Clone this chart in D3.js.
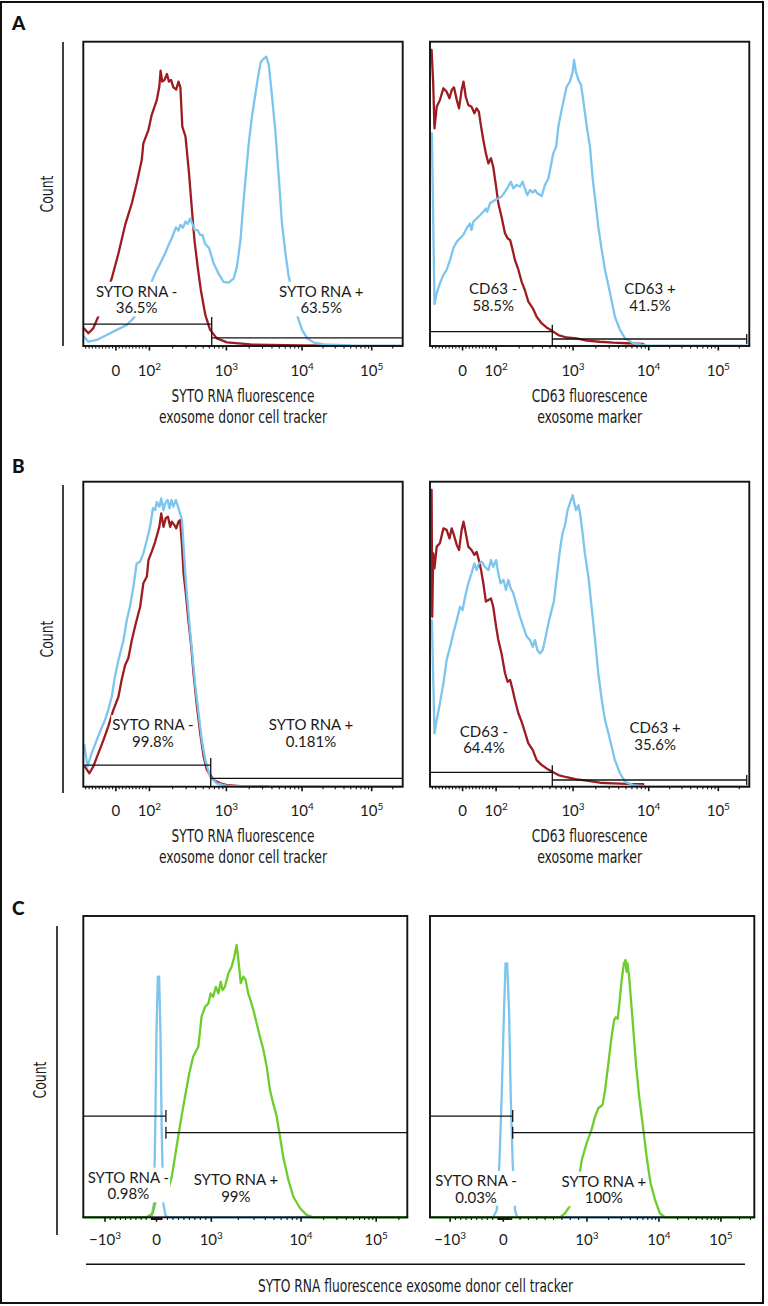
<!DOCTYPE html>
<html><head><meta charset="utf-8">
<script src="https://cdn.jsdelivr.net/npm/d3@7"></script>
<style>
body{margin:0;background:#fff;}
svg{display:block;}
</style></head><body>
<svg id="fig" width="768" height="1306"></svg>
<script>
// ---------- DATA (x = display channel, % of axis range; y = count, % of plot height) ----------
const aLeftRed = [[0.2,5.8],[1.6,4.2],[3.1,5.8],[4.9,10.2],[6.9,16.2],[8.9,22.2],[11.0,30.4],[13.1,39.8],[15.2,46.9],[16.7,53.4],[18.3,61.1],[18.8,66.6],[20.4,71.0],[21.4,75.9],[23.0,80.8],[23.8,85.2],[24.2,90.5],[24.7,86.9],[25.4,87.4],[26.2,89.4],[26.8,86.9],[27.5,87.4],[28.2,85.0],[29.1,84.3],[29.8,86.9],[30.4,85.0],[31.0,72.1],[32.0,68.8],[33.1,56.7],[34.1,43.6],[34.8,34.8],[35.8,26.1],[36.8,18.4],[38.2,10.2],[39.7,5.3],[41.8,2.5],[45.0,1.2],[52.3,0.5],[68.0,0.2],[78.5,0.1]];
const aLeftBlue = [[0.2,3.1],[1.6,1.4],[4.2,2.0],[7.3,3.6],[10.5,5.3],[13.6,6.9],[15.7,9.1],[18.8,14.6],[22.5,23.9],[24.1,27.2],[25.6,30.4],[26.7,33.2],[27.7,35.4],[29.0,39.0],[29.8,37.9],[30.4,39.8],[31.2,38.9],[32.0,40.9],[32.7,40.1],[33.5,41.9],[34.1,40.3],[34.9,38.1],[35.8,38.1],[36.6,36.5],[37.3,36.5],[38.1,33.7],[39.4,32.1],[40.8,27.2],[42.4,23.7],[43.9,21.1],[45.5,20.8],[47.1,22.2],[48.1,26.1],[49.2,34.8],[50.2,48.0],[51.8,66.6],[52.8,75.4],[53.9,83.0],[54.9,89.6],[55.6,93.4],[56.5,94.4],[57.3,95.1],[58.1,92.3],[59.1,81.9],[60.1,71.0],[61.2,55.6],[62.2,40.3],[63.3,30.4],[64.3,22.8],[65.6,17.3],[66.9,10.2],[68.5,5.3],[70.1,2.5],[72.2,1.1],[75.3,0.5],[83.7,0.2],[100,0.1]];
const aRightRed = [[0.5,97.3],[1.0,86.3],[1.4,71.5],[2.1,78.6],[3.1,80.8],[4.2,84.7],[5.2,83.6],[6.1,81.4],[6.8,84.1],[7.5,85.0],[8.4,80.8],[9.1,78.1],[9.9,84.1],[10.5,86.9],[11.2,81.9],[12.0,79.2],[13.0,78.6],[13.9,76.5],[14.6,78.1],[15.3,77.0],[16.0,72.1],[16.7,67.7],[17.5,63.3],[18.3,60.0],[19.1,61.7],[19.8,58.9],[20.7,52.4],[21.4,46.9],[22.4,42.5],[23.5,37.0],[24.3,35.4],[25.1,34.8],[25.9,31.5],[26.6,28.3],[27.7,25.0],[28.7,21.1],[29.7,18.4],[30.8,14.6],[32.2,12.4],[33.4,9.6],[35.0,7.4],[36.5,6.1],[38.3,4.9],[40.2,3.6],[42.8,2.8],[45.9,2.5],[49.1,1.8],[53.2,1.4],[57.4,1.1],[61.6,0.9],[66.8,0.7]];
const aRightBlue = [[0.6,69.9],[1.4,13.8],[2.1,17.3],[3.1,20.6],[4.2,23.3],[5.2,25.0],[6.3,28.3],[7.3,32.1],[8.4,34.3],[9.4,35.4],[10.4,36.5],[11.5,38.7],[12.5,40.3],[13.0,38.1],[13.6,40.9],[14.6,41.9],[15.7,43.0],[16.7,44.1],[17.5,45.2],[17.9,44.1],[18.8,46.9],[20.4,48.0],[21.4,48.5],[22.4,49.1],[23.5,50.7],[24.5,52.4],[25.3,54.0],[26.1,51.8],[27.1,52.9],[28.2,52.4],[29.0,54.0],[29.7,51.8],[30.5,49.6],[31.3,51.3],[32.2,50.4],[32.9,51.3],[33.6,50.2],[35.0,49.3],[36.0,52.9],[37.1,55.1],[37.9,59.5],[38.6,63.3],[39.5,65.5],[40.2,72.1],[41.2,77.5],[42.1,81.9],[42.8,85.2],[43.8,86.9],[44.7,90.1],[45.1,94.0],[45.7,90.1],[46.5,87.4],[47.3,85.8],[48.0,80.8],[49.1,72.1],[50.1,65.5],[50.9,55.6],[52.0,45.8],[52.7,39.2],[53.8,31.5],[54.8,25.0],[56.4,17.3],[57.9,9.6],[59.5,5.3],[61.1,2.5],[63.7,0.9],[67.8,0.2],[100,0.1]];
const bLeftRed = [[0.5,6.6],[1.9,4.4],[3.1,6.6],[4.7,10.9],[6.3,15.3],[7.8,19.7],[9.4,25.1],[11.0,29.5],[12.0,35.0],[13.1,39.9],[14.1,42.1],[15.2,48.1],[16.2,52.5],[17.8,59.0],[18.8,66.7],[19.9,68.9],[20.4,74.3],[21.4,77.0],[22.5,80.3],[23.8,85.2],[24.4,89.6],[25.1,85.2],[25.8,88.0],[26.5,88.5],[27.2,85.2],[27.7,86.9],[28.5,85.8],[29.1,84.7],[29.8,86.9],[30.3,87.4],[30.9,79.2],[31.4,69.9],[32.1,63.4],[32.9,54.6],[33.8,45.9],[34.5,37.2],[35.6,26.2],[36.6,17.5],[37.7,9.8],[38.7,5.5],[40.8,2.2],[42.9,1.1],[45.0,0.5],[49.2,0.2],[57.5,0.1]];
const bLeftBlue = [[0.3,13.7],[1.3,6.6],[2.6,10.9],[4.2,15.3],[5.2,18.0],[6.8,21.9],[7.8,25.1],[8.9,29.5],[9.9,36.1],[11.0,41.5],[12.6,48.1],[13.6,54.6],[14.6,59.0],[15.7,65.6],[16.7,73.2],[17.8,73.8],[18.8,76.5],[19.9,80.9],[20.9,85.2],[21.8,91.3],[22.5,90.7],[23.0,93.4],[23.8,91.8],[24.4,94.5],[25.1,90.7],[25.6,92.9],[26.4,94.0],[27.0,91.3],[27.6,94.0],[28.2,91.8],[29.0,94.0],[29.8,91.3],[30.9,87.4],[31.4,78.7],[32.0,68.9],[32.6,61.2],[33.5,50.3],[34.3,41.5],[35.1,32.8],[36.1,24.0],[37.1,15.3],[38.2,8.7],[39.7,3.3],[41.8,1.1],[45.0,0.3],[57.5,0.1],[100,0]];
const bRightRed = [[0.5,97.3],[0.7,55.7],[1.0,76.5],[1.4,71.6],[2.1,78.7],[3.1,79.8],[4.2,84.7],[5.2,84.2],[6.1,81.4],[6.8,84.7],[7.5,82.5],[8.4,79.2],[9.1,77.6],[9.9,84.2],[10.5,86.9],[11.2,83.1],[12.0,78.7],[13.0,77.6],[13.9,76.0],[14.6,77.0],[15.3,74.3],[16.0,71.0],[16.7,66.7],[17.5,60.7],[18.3,61.2],[19.1,61.7],[19.8,59.0],[20.7,52.5],[21.4,48.1],[22.4,43.7],[23.5,37.2],[24.3,34.4],[25.1,35.0],[25.9,31.7],[26.6,28.4],[27.7,24.0],[28.7,21.3],[29.7,18.0],[30.8,14.2],[32.2,12.0],[33.4,8.7],[35.0,7.1],[36.5,6.0],[38.3,4.9],[40.2,3.8],[42.8,3.1],[45.9,2.4],[49.1,2.0],[53.2,1.3],[57.4,1.1],[61.6,0.9],[66.8,0.8]];
const bRightBlue = [[0.6,54.6],[1.4,17.5],[2.1,21.9],[3.1,27.3],[4.2,33.9],[5.2,41.5],[6.3,45.9],[7.3,50.3],[8.4,54.6],[9.4,59.0],[10.2,57.9],[11.0,62.3],[12.0,66.7],[13.0,69.9],[13.9,73.2],[14.6,71.0],[15.3,73.2],[16.2,73.8],[17.2,72.1],[18.3,71.0],[19.1,74.3],[19.8,72.1],[20.7,74.3],[21.4,69.9],[22.1,66.7],[23.0,67.8],[23.8,64.5],[24.5,67.8],[25.3,65.0],[26.1,63.4],[27.1,59.6],[28.2,55.7],[29.2,52.5],[30.3,49.2],[31.3,48.1],[32.2,45.9],[32.9,48.1],[33.6,44.8],[34.4,43.7],[35.3,44.8],[36.0,48.1],[37.1,53.6],[38.1,57.9],[38.8,60.7],[39.7,68.9],[40.7,77.6],[41.5,83.1],[42.3,85.8],[43.1,90.7],[43.8,92.9],[44.7,95.6],[45.2,92.9],[45.7,90.7],[46.5,92.3],[47.0,89.6],[47.8,83.1],[48.5,76.5],[49.6,68.9],[50.6,59.0],[51.7,48.1],[52.7,37.2],[53.8,28.4],[54.8,21.9],[56.4,15.3],[57.9,8.7],[59.5,4.4],[61.1,1.6],[63.7,0.5],[67.8,0.1],[100,0]];
const cLeftBlue = [[0,0],[19.5,0],[21.1,0.4],[21.8,4.6],[22.2,29.0],[22.6,62.2],[23.0,79.9],[23.4,79.9],[23.8,62.2],[24.2,29.0],[24.7,4.6],[25.4,0.4],[26.7,0],[100,0]];
const cLeftGreen = [[0,0],[19.5,0],[21.4,1.3],[22.4,5.5],[23.3,6.9],[24.1,6.0],[25.2,5.8],[26.2,9.1],[27.3,13.5],[28.3,20.1],[29.3,26.8],[30.3,33.4],[31.4,40.0],[32.7,47.8],[33.9,53.3],[35.5,56.6],[36.5,66.6],[37.6,69.9],[38.6,71.0],[39.3,74.3],[40.1,73.2],[40.9,76.5],[41.7,74.3],[42.4,78.2],[43.0,75.4],[43.7,76.5],[44.8,81.0],[45.8,83.2],[46.6,86.5],[47.3,90.4],[47.8,86.0],[48.6,77.7],[49.4,79.9],[50.1,78.8],[50.9,74.3],[51.6,72.1],[52.5,68.8],[53.5,64.4],[54.5,60.0],[55.6,55.5],[56.6,50.0],[57.6,42.3],[58.6,37.8],[59.7,33.4],[60.7,26.8],[61.7,20.1],[63.3,12.4],[64.8,6.9],[66.9,3.0],[68.9,0.8],[71.0,0],[100,0]];
const cRightBlue = [[0,0],[19.5,0],[20.6,2.4],[21.4,17.9],[22.1,40.0],[22.8,67.7],[23.3,84.3],[23.8,84.3],[24.4,67.7],[24.9,40.0],[25.5,17.9],[26.2,2.4],[26.9,0],[100,0]];
const cRightGreen = [[0,0],[40.1,0],[41.6,1.3],[43.7,4.6],[45.2,8.0],[46.8,19.0],[48.3,24.6],[49.8,29.0],[50.9,33.4],[51.9,36.2],[53.2,37.3],[54.0,42.3],[55.0,51.1],[56.0,60.0],[56.8,65.5],[57.3,66.4],[57.9,65.9],[58.4,71.0],[59.1,78.8],[59.8,84.3],[60.3,85.4],[60.6,81.5],[60.9,84.3],[61.4,79.9],[61.9,73.2],[62.7,62.2],[63.5,51.1],[64.5,40.0],[65.8,29.0],[66.8,20.1],[68.0,11.3],[69.4,5.8],[70.9,1.3],[72.5,0],[100,0]];

// axis ticks: values, labels, and their channel positions
const tickValuesAB = [0, 100, 1e3, 1e4, 1e5];
const tickLabelsAB = ["0", "10^2", "10^3", "10^4", "10^5"];
const tickChanAB = [10.2, 20.7, 44.8, 68.5, 90.3];
const tickValuesC = [-1e3, 0, 1e3, 1e4, 1e5];
const tickLabelsC = ["\u221210^3", "0", "10^3", "10^4", "10^5"];
const tickChanCLeft = [6.7, 22.6, 39.5, 67.2, 90.4];
const tickChanCRight = [6.2, 22.6, 48.4, 70.6, 89.7];

// gates: [split channel, left-gate height %, right-gate height %, right-gate end channel]
const gateALeft = [40.2, 7.2, 2.7, 100];
const gateARight = [38.3, 4.7, 2.3, 99.2];
const gateBLeft = [39.9, 7.1, 2.7, 100];
const gateBRight = [38.3, 4.7, 2.2, 99.2];
const gateCLeft = [25.5, 33.6, 28.1, 100];
const gateCRight = [25.5, 33.6, 28.1, 100];

// gate annotations: [channel, height %, line1, line2]
const labelsALeft = [[16.7, 16.2, "SYTO RNA -", "36.5%"], [74.5, 16.2, "SYTO RNA +", "63.5%"]];
const labelsARight = [[19.8, 17.1, "CD63 -", "58.5%"], [68.9, 17.1, "CD63 +", "41.5%"]];
const labelsBLeft = [[21.8, 18.6, "SYTO RNA -", "99.8%"], [71.3, 18.6, "SYTO RNA +", "0.181%"]];
const labelsBRight = [[16.9, 16.4, "CD63 -", "64.4%"], [70.5, 17.5, "CD63 +", "35.6%"]];
const labelsCLeft = [[13.9, 11.5, "SYTO RNA -", "0.98%"], [47.1, 10.7, "SYTO RNA +", "99%"]];
const labelsCRight = [[14.2, 10.4, "SYTO RNA -", "0.03%"], [53.6, 10.2, "SYTO RNA +", "100%"]];

// ---------- STYLE / LAYOUT ----------
const RED = "#9d1c22", BLUE = "#7cc5ee", GREEN = "#6ccd2c";
const SANS = "Lato, 'Noto Sans', sans-serif";
const COND = "'Liberation Sans Narrow', 'DejaVu Sans Condensed', 'Roboto Condensed', sans-serif";

const svg = d3.select("#fig");
svg.append("rect").attr("x", 1).attr("y", 2).attr("width", 762).attr("height", 1301)
  .attr("fill", "none").attr("stroke", "#111").attr("stroke-width", 2);

function ticksFor(kind, chan) {
  const out = [];
  chan.forEach(c => out.push({c, major: true}));
  if (kind === "AB") {
    for (let v = -90; v <= 90; v += 10) if (v !== 0) out.push({c: chan[0] + v / 100 * (chan[1] - chan[0])});
    for (let i = 1; i <= 4; i++) {
      const lo = chan[i], hi = i < 4 ? chan[i + 1] : chan[4] + (chan[4] - chan[3]);
      for (let m = 2; m <= 9; m++) out.push({c: lo + Math.log10(m) * (hi - lo)});
    }
  } else {
    const steps = [];
    for (let v = 10; v <= 90; v += 10) steps.push(v);
    for (let v = 100; v <= 900; v += 100) steps.push(v);
    steps.forEach(v => {
      out.push({c: chan[1] + v / 1000 * (chan[2] - chan[1])});
      out.push({c: chan[1] - v / 1000 * (chan[1] - chan[0])});
    });
    for (let i = 2; i <= 4; i++) {
      const lo = chan[i], hi = i < 4 ? chan[i + 1] : chan[4] + (chan[4] - chan[3]);
      for (let m = 2; m <= 9; m++) out.push({c: lo + Math.log10(m) * (hi - lo)});
    }
  }
  return out.filter(t => t.c >= 0 && t.c <= 100);
}

function drawPanel(p) {
  const g = svg.append("g");
  const x = d3.scaleLinear().domain([0, 100]).range([p.x0, p.x1]);
  const y = d3.scaleLinear().domain([0, 100]).range([p.y1, p.y0]);
  const line = d3.line().x(d => x(d[0])).y(d => y(d[1]));

  p.series.forEach(s => {
    g.append("path").datum(s.data).attr("d", line).attr("fill", "none")
      .attr("stroke", s.color).attr("stroke-width", 2.3)
      .attr("stroke-linejoin", "round").attr("stroke-linecap", "round");
  });

  const [split, hL, hR, endR] = p.gate;
  const gl = g.append("g").attr("stroke", "#111").attr("stroke-width", 1.3).attr("fill", "none");
  gl.append("line").attr("x1", x(0)).attr("x2", x(split)).attr("y1", y(hL)).attr("y2", y(hL));
  gl.append("line").attr("x1", x(split)).attr("x2", x(endR)).attr("y1", y(hR)).attr("y2", y(hR));
  if (p.kind === "AB") {
    gl.append("line").attr("x1", x(split)).attr("x2", x(split)).attr("y1", y(hL) - 7).attr("y2", p.y1);
    if (endR < 100) gl.append("line").attr("x1", x(endR)).attr("x2", x(endR)).attr("y1", y(hR) - 5).attr("y2", y(hR) + 5);
  } else {
    gl.append("line").attr("x1", x(split)).attr("x2", x(split)).attr("y1", y(hL) - 6).attr("y2", y(hL) + 6);
    gl.append("line").attr("x1", x(split)).attr("x2", x(split)).attr("y1", y(hR) - 6).attr("y2", y(hR) + 6);
  }

  p.labels.forEach(l => {
    const t = g.append("text").attr("text-anchor", "middle")
      .attr("font-family", SANS).attr("font-size", 15).attr("fill", "#1a1a1a");
    t.append("tspan").attr("x", x(l[0])).attr("y", y(l[1])).text(l[2]);
    t.append("tspan").attr("x", x(l[0])).attr("y", y(l[1]) + 16.7).text(l[3]);
    const bb = t.node().getBBox();
    g.insert("rect", () => t.node()).attr("x", bb.x - 1).attr("y", bb.y).attr("width", bb.width + 2)
      .attr("height", bb.height).attr("fill", "#fff");
  });

  g.append("rect").attr("x", p.x0).attr("y", p.y0).attr("width", p.x1 - p.x0).attr("height", p.y1 - p.y0)
    .attr("fill", "none").attr("stroke", "#111").attr("stroke-width", 1.9);

  const tk = ticksFor(p.kind, p.tickChan);
  g.append("g").selectAll("line").data(tk).join("line")
    .attr("x1", d => x(d.c)).attr("x2", d => x(d.c))
    .attr("y1", p.y1).attr("y2", d => p.y1 + (d.major ? 4.5 : 2.6))
    .attr("stroke", "#111").attr("stroke-width", d => d.major ? 1.6 : 1.1);

  p.tickLabels.forEach((lab, i) => {
    const t = g.append("text").attr("x", x(p.tickChan[i])).attr("y", p.labelY)
      .attr("text-anchor", "middle").attr("font-family", SANS).attr("font-size", 15).attr("fill", "#1a1a1a");
    const parts = lab.split("^");
    t.append("tspan").text(parts[0]);
    if (parts[1]) t.append("tspan").attr("dy", -6.5).attr("font-size", 10).text(parts[1]);
  });

  if (p.title) {
    p.title.forEach((s, i) => {
      g.append("text").attr("x", (p.x0 + p.x1) / 2).attr("y", p.titleY + i * 21.3)
        .attr("text-anchor", "middle").attr("font-family", COND).attr("font-size", 18)
        .attr("textLength", p.titleLen[i]).attr("lengthAdjust", "spacingAndGlyphs")
        .attr("fill", "#1a1a1a").text(s);
    });
  }
}

const rowAB = (y0, y1, labelY, titleY) => ({y0, y1, labelY, titleY});
const rA = rowAB(41.7, 346, 376, 401.7);
const rB = rowAB(481.7, 786.7, 816, 842);

const panels = [
  Object.assign({x0: 83.3, x1: 402.7, kind: "AB", tickChan: tickChanAB, tickLabels: tickLabelsAB,
    series: [{data: aLeftRed, color: RED}, {data: aLeftBlue, color: BLUE}], gate: gateALeft, labels: labelsALeft,
    title: ["SYTO RNA fluorescence", "exosome donor cell tracker"], titleLen: [143, 168]}, rA),
  Object.assign({x0: 430, x1: 749.3, kind: "AB", tickChan: tickChanAB, tickLabels: tickLabelsAB,
    series: [{data: aRightRed, color: RED}, {data: aRightBlue, color: BLUE}], gate: gateARight, labels: labelsARight,
    title: ["CD63 fluorescence", "exosome marker"], titleLen: [116, 105]}, rA),
  Object.assign({x0: 83.3, x1: 402.7, kind: "AB", tickChan: tickChanAB, tickLabels: tickLabelsAB,
    series: [{data: bLeftRed, color: RED}, {data: bLeftBlue, color: BLUE}], gate: gateBLeft, labels: labelsBLeft,
    title: ["SYTO RNA fluorescence", "exosome donor cell tracker"], titleLen: [143, 168]}, rB),
  Object.assign({x0: 430, x1: 749.3, kind: "AB", tickChan: tickChanAB, tickLabels: tickLabelsAB,
    series: [{data: bRightRed, color: RED}, {data: bRightBlue, color: BLUE}], gate: gateBRight, labels: labelsBRight,
    title: ["CD63 fluorescence", "exosome marker"], titleLen: [116, 105]}, rB),
  {x0: 83.3, x1: 407.3, y0: 916, y1: 1217.3, labelY: 1245, kind: "C", tickChan: tickChanCLeft, tickLabels: tickLabelsC,
    series: [{data: cLeftBlue, color: BLUE}, {data: cLeftGreen, color: GREEN}], gate: gateCLeft, labels: labelsCLeft},
  {x0: 430, x1: 754.3, y0: 916, y1: 1217.3, labelY: 1245, kind: "C", tickChan: tickChanCRight, tickLabels: tickLabelsC,
    series: [{data: cRightBlue, color: BLUE}, {data: cRightGreen, color: GREEN}], gate: gateCRight, labels: labelsCRight}
];
panels.forEach(drawPanel);

[["A", 30], ["B", 473.3], ["C", 915]].forEach(([s, yy]) => {
  svg.append("text").attr("x", 12).attr("y", yy).attr("font-family", SANS).attr("font-weight", 900)
    .attr("font-size", 19).attr("fill", "#111").text(s);
});

[[63, 42, 346, 47, 194], [63, 485, 793, 47, 639], [57, 926, 1235, 40, 1080]].forEach(([lx, ya, yb, tx, ty]) => {
  svg.append("line").attr("x1", lx).attr("x2", lx).attr("y1", ya).attr("y2", yb)
    .attr("stroke", "#111").attr("stroke-width", 1.6);
  svg.append("text").attr("transform", `translate(${tx + 6},${ty}) rotate(-90)`).attr("text-anchor", "middle")
    .attr("font-family", COND).attr("font-size", 18).attr("textLength", 37).attr("lengthAdjust", "spacingAndGlyphs")
    .attr("fill", "#1a1a1a").text("Count");
});

svg.append("line").attr("x1", 86).attr("x2", 745).attr("y1", 1264.3).attr("y2", 1264.3)
  .attr("stroke", "#111").attr("stroke-width", 1.5);
svg.append("text").attr("x", 415.5).attr("y", 1291.7).attr("text-anchor", "middle")
  .attr("font-family", COND).attr("font-size", 18).attr("textLength", 315).attr("lengthAdjust", "spacingAndGlyphs")
  .attr("fill", "#1a1a1a").text("SYTO RNA fluorescence exosome donor cell tracker");
</script>
</body></html>
